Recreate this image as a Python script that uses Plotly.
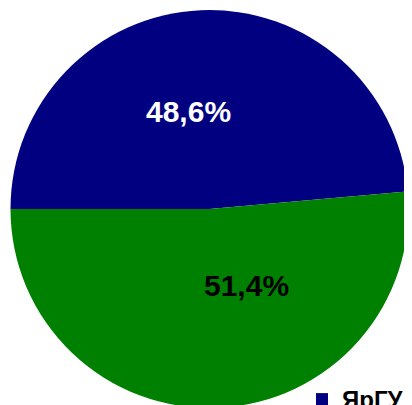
import plotly.graph_objects as go

labels = ["ЯрГУ", "Другие"]
values = [48.6, 51.4]
text_labels = ["48,6%", "51,4%"]
colors = ["#000080", "#008000"]
text_colors = ["#ffffff", "#000000"]

W, H = 412, 405
OFF = 8  # page body margin
cx, cy, r = 209.5 - OFF, 209 - OFF, 199

fig = go.Figure(go.Pie(
    labels=labels,
    values=values,
    textinfo="none",
    marker=dict(colors=colors, line=dict(width=0)),
    sort=False,
    direction="clockwise",
    rotation=-90,
    domain=dict(x=[(cx - r) / W, (cx + r) / W], y=[1 - (cy + r) / H, 1 - (cy - r) / H]),
    hoverinfo="skip",
))

# label positions (page pixels) for the percentage texts
label_pos = [(188, 111.5), (246.5, 285.5)]
for txt, col, (px, py) in zip(text_labels, text_colors, label_pos):
    fig.add_annotation(
        text=txt, x=(px - OFF) / W, y=1 - (py - OFF) / H,
        xref="paper", yref="paper", xanchor="center", yanchor="middle",
        showarrow=False,
        font=dict(family="Liberation Sans, Arial, sans-serif", size=30, color=col, weight="bold"),
    )

fig.update_layout(
    width=W, height=H,
    margin=dict(l=0, r=0, t=0, b=0, autoexpand=False),
    paper_bgcolor="white",
    showlegend=True,
    legend=dict(
        orientation="h",
        x=294 / W, xanchor="left",
        y=1 - 369 / H, yanchor="top",
        font=dict(family="Liberation Sans, Arial, sans-serif", size=24, color="black", weight="bold"),
        bgcolor="rgba(0,0,0,0)",
    ),
)

fig.write_html("out.html")
